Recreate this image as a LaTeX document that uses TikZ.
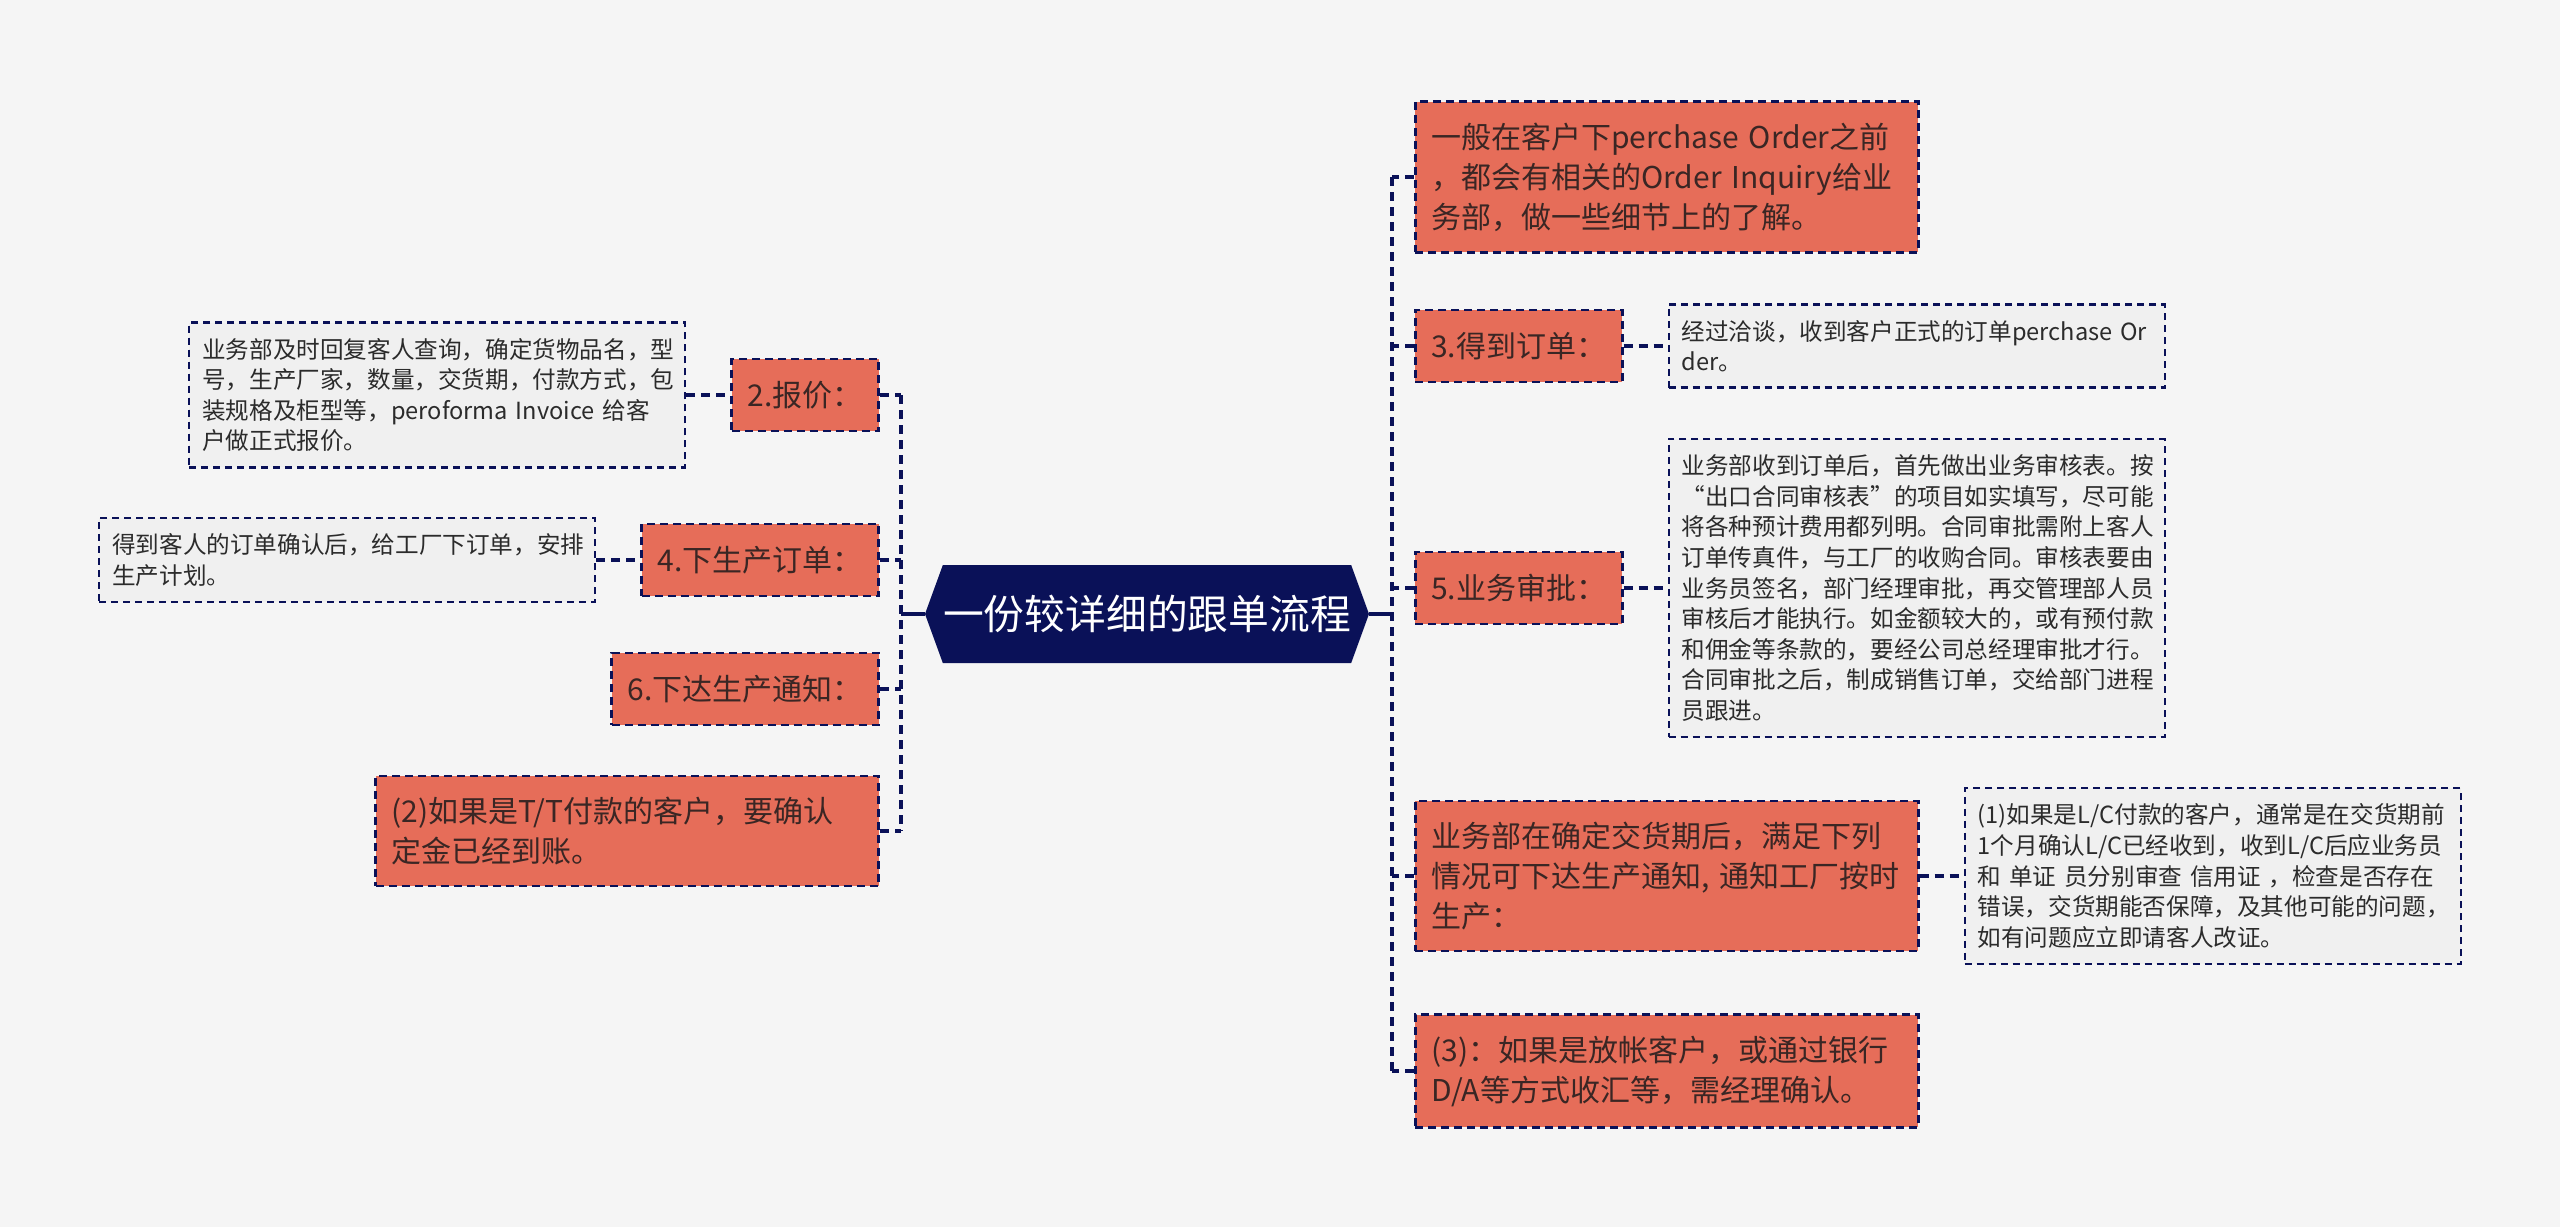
\documentclass[tikz,border=0pt]{standalone}
\usepackage{fontspec}
\setmainfont{Noto Sans CJK SC}
\usepackage{xcolor}
\usetikzlibrary{positioning,shapes.symbols}

\definecolor{bgcol}{HTML}{F5F5F5}
\definecolor{navy}{HTML}{0A1158}
\definecolor{salmon}{HTML}{E66D59}
\definecolor{salmontext}{HTML}{3A2624}
\definecolor{notefill}{HTML}{F0F0F0}
\definecolor{notetext}{HTML}{2B2B2B}

\begin{document}
\begin{tikzpicture}[
  x=0.5pt, y=-0.5pt,
  node distance=22pt,
  rootnode/.style={signal, signal to=west and east, signal pointer angle=140, fill=navy, text=white, font=\fontsize{20.4}{24}\selectfont, minimum width=222pt, minimum height=49pt, inner sep=0pt},
  topic/.style={draw=navy, dash pattern=on 4pt off 2.5pt, line width=1.3pt, fill=salmon, text=salmontext, align=left, font=\fontsize{15}{20}\selectfont, inner xsep=8pt, inner ysep=10.5pt, minimum height=36pt},
  widetopic/.style={topic, text width=235.5pt},
  note/.style={draw=navy, dash pattern=on 3.5pt off 2.5pt, line width=1.1pt, fill=notefill, text=notetext, align=left, text width=235pt, font=\fontsize{11.8}{15.3}\selectfont, inner xsep=6.5pt, inner ysep=7.75pt},
  link/.style={draw=navy, dash pattern=on 4.5pt off 3pt, line width=1.7pt},
  spine/.style={draw=navy, line width=1.7pt}
]
\fill[bgcol] (0,0) rectangle (2560,1227);

\node[rootnode] (root) at (1147,614) {一份较详细的跟单流程};

% left branches
\node[topic, anchor=east] (quote) at (880,395) {2.报价：};
\node[note, left=of quote] (quoteinfo) {业务部及时回复客人查询，确定货物品名，型\\号，生产厂家，数量，交货期，付款方式，包\\装规格及柜型等，peroforma Invoice 给客\\户做正式报价。};
\node[topic, anchor=east] (order) at (880,560) {4.下生产订单：};
\node[note, left=of order] (orderinfo) {得到客人的订单确认后，给工厂下订单，安排\\生产计划。};
\node[topic, anchor=east] (notice) at (880,689) {6.下达生产通知：};
\node[widetopic, anchor=east] (deposit) at (880,831) {(2)如果是T/T付款的客户，要确认\\定金已经到账。};

% right branches
\node[widetopic, anchor=west] (inquiry) at (1414,177) {一般在客户下perchase Order之前\\，都会有相关的Order Inquiry给业\\务部，做一些细节上的了解。};
\node[topic, anchor=west] (gotorder) at (1414,346) {3.得到订单：};
\node[note, right=of gotorder] (gotorderinfo) {经过洽谈，收到客户正式的订单perchase Or\\der。};
\node[topic, anchor=west] (approval) at (1414,588) {5.业务审批：};
\node[note, right=of approval] (approvalinfo) {业务部收到订单后，首先做出业务审核表。按\\“出口合同审核表”的项目如实填写，尽可能\\将各种预计费用都列明。合同审批需附上客人\\订单传真件，与工厂的收购合同。审核表要由\\业务员签名，部门经理审批，再交管理部人员\\审核后才能执行。如金额较大的，或有预付款\\和佣金等条款的，要经公司总经理审批才行。\\合同审批之后，制成销售订单，交给部门进程\\员跟进。};
\node[widetopic, anchor=west] (production) at (1414,876) {业务部在确定交货期后，满足下列\\情况可下达生产通知, 通知工厂按时\\生产：};
\node[note, right=of production] (lcinfo) {(1)如果是L/C付款的客户，通常是在交货期前\\1个月确认L/C已经收到，收到L/C后应业务员\\和 单证 员分别审查 信用证 ，检查是否存在\\错误，交货期能否保障，及其他可能的问题，\\如有问题应立即请客人改证。};
\node[widetopic, anchor=west] (openacct) at (1414,1071) {(3)：如果是放帐客户，或通过银行\\D/A等方式收汇等，需经理确认。};

% connectors
\coordinate (lhub) at (901,614);
\coordinate (rhub) at (1392,614);
\draw[spine] (root.west) -- (lhub);
\draw[spine] (root.east) -- (rhub);
\draw[link] (quote.east -| lhub) -- (deposit.east -| lhub);
\foreach \n in {quote,order,notice,deposit}
  \draw[link] (\n.east) -- (\n.east -| lhub);
\draw[link] (inquiry.west -| rhub) -- (openacct.west -| rhub);
\foreach \n in {inquiry,gotorder,approval,production,openacct}
  \draw[link] (\n.west) -- (\n.west -| rhub);
\draw[link] (quoteinfo) -- (quote);
\draw[link] (orderinfo) -- (order);
\draw[link] (gotorder) -- (gotorderinfo);
\draw[link] (approval) -- (approvalinfo);
\draw[link] (production) -- (lcinfo);
\end{tikzpicture}
\end{document}
